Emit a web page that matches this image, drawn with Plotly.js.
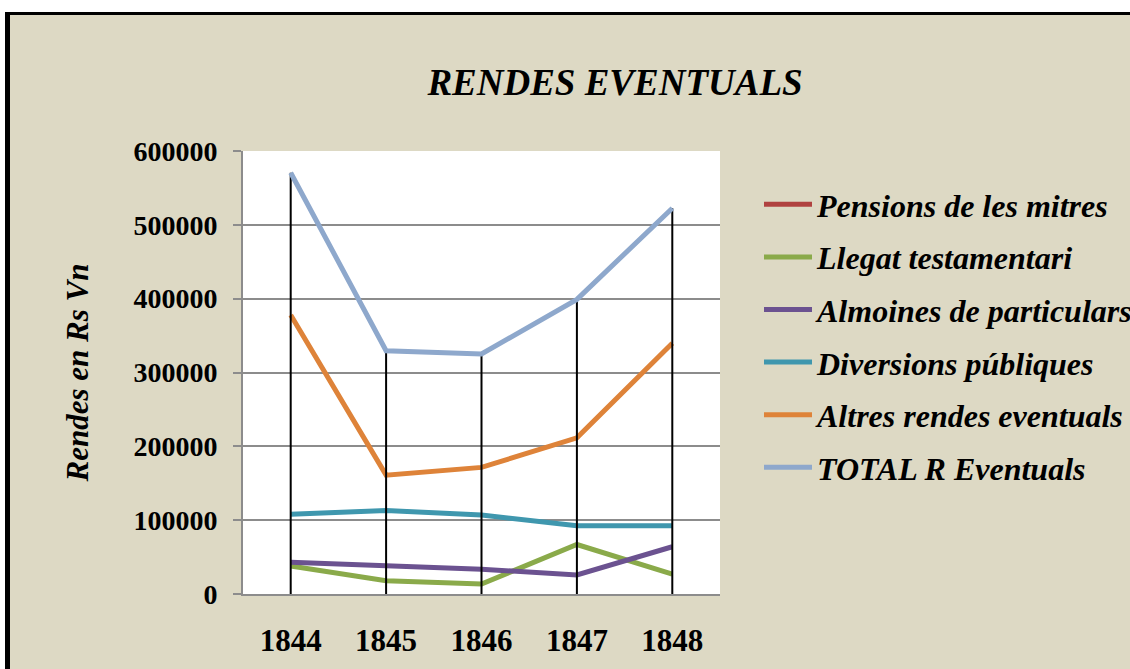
<!DOCTYPE html>
<html>
<head>
<meta charset="utf-8">
<script src="https://cdn.plot.ly/plotly-3.0.1.min.js"></script>
<style>
html, body { margin:0; padding:0; background:#ffffff; width:1130px; height:669px; overflow:hidden; }
#frame { position:absolute; left:5px; top:12px; width:1200px; height:700px; border-left:5px solid #000; border-top:3px solid #000; background:#DDD9C4; }
#chart { position:absolute; left:0; top:0; width:1160px; height:660px; }
</style>
</head>
<body>
<div id="frame"><div id="chart"></div></div>
<script>
const years = ['1844', '1845', '1846', '1847', '1848'];
const pensionsMitres = [null, null, null, null, null];
const llegatTestamentari = [38000, 18000, 13500, 67000, 27000];
const almoinesParticulars = [43000, 38500, 33500, 25700, 64000];
const diversionsPubliques = [108000, 113000, 107000, 92500, 92500];
const altresRendes = [378000, 161000, 171500, 211500, 339500];
const totalEventuals = [570500, 329500, 325000, 399000, 522500];
const yTicks = [0, 100000, 200000, 300000, 400000, 500000, 600000];

const font = 'Liberation Serif, Times New Roman, serif';
function line(name, y, color, extra) {
  return Object.assign({
    type: 'scatter', mode: 'lines', name: name, x: years, y: y,
    line: {color: color, width: 5}, legendgroup: name, connectgaps: false
  }, extra || {});
}
const traces = [
  line('Pensions de les mitres', pensionsMitres, '#B04240'),
  line('Llegat testamentari', llegatTestamentari, '#8AAA4A'),
  line('Almoines de particulars', almoinesParticulars, '#6B5290'),
  line('Diversions públiques', diversionsPubliques, '#3F97AE'),
  line('Altres rendes eventuals', altresRendes, '#DE8339'),
  line('TOTAL R Eventuals', totalEventuals, '#8EA8CC', {
    error_y: {type: 'data', symmetric: false, array: totalEventuals.map(() => 0),
              arrayminus: totalEventuals, color: '#000', thickness: 2, width: 0}
  })
];

const W = 1160, H = 660;
const layout = {
  width: W, height: H,
  paper_bgcolor: '#DDD9C4', plot_bgcolor: '#ffffff',
  margin: {l: 233, r: W - 710, t: 136, b: H - 579, pad: 0},
  showlegend: true,
  title: {text: 'RENDES EVENTUALS', xref: 'container', yref: 'container',
          x: 605 / W, xanchor: 'center', y: 1 - 67 / H, yanchor: 'middle',
          font: {family: font, size: 37, weight: 'bold', style: 'italic', color: '#000'}},
  xaxis: {type: 'category', range: [-0.5, 4.5], showgrid: false, zeroline: false,
          showline: true, linecolor: '#8c8c8c', linewidth: 2, ticks: '',
          ticklabelstandoff: 18,
          tickfont: {family: font, size: 31, weight: 'bold', color: '#000'}},
  yaxis: {range: [0, 600000], tickvals: yTicks, ticktext: yTicks.map(String),
          showgrid: true, gridcolor: '#8c8c8c', gridwidth: 2, zeroline: false,
          showline: true, linecolor: '#8c8c8c', linewidth: 2,
          ticks: 'outside', ticklen: 8, tickcolor: '#8c8c8c', tickwidth: 2,
          ticklabelstandoff: 10,
          tickfont: {family: font, size: 28, weight: 'bold', color: '#000'},
          title: {text: 'Rendes en Rs Vn', standoff: 36,
                  font: {family: font, size: 31, weight: 'bold', style: 'italic', color: '#000'}}},
  legend: {xref: 'container', yref: 'container', x: 749 / W, xanchor: 'left',
           y: 1 - 162 / H, yanchor: 'top', bgcolor: 'rgba(0,0,0,0)',
           traceorder: 'grouped', tracegroupgap: 8, itemwidth: 48,
           font: {family: font, size: 32, weight: 'bold', style: 'italic', color: '#000'}}
};
Plotly.newPlot('chart', traces, layout, {displayModeBar: false, staticPlot: true});
</script>
</body>
</html>
